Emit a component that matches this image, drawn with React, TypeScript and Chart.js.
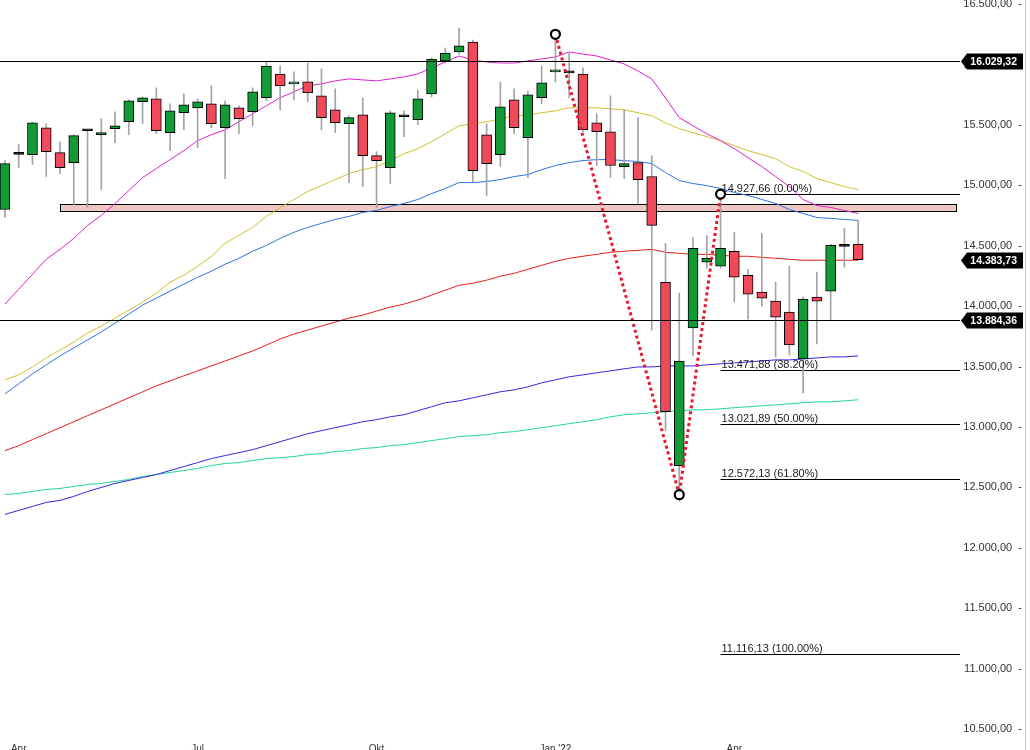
import React, { useEffect, useRef } from "react";
import { Chart, registerables } from "chart.js";

Chart.register(...registerables);

// ---- weekly candles (index 0..62) ----
const OPEN = [14800, 15257, 15254, 15477, 15271, 15188, 15452, 15419, 15469, 15527, 15692, 15716, 15436, 15601, 15642, 15675, 15477, 15642, 15609, 15725, 15922, 15840, 15856, 15741, 15625, 15510, 15584, 15246, 15147, 15568, 15543, 15757, 16030, 16104, 16187, 15419, 15254, 15708, 15395, 15725, 15939, 15931, 15922, 15518, 15444, 15155, 15188, 15073, 14198, 12680, 13819, 14363, 14330, 14454, 14256, 14116, 14041, 13951, 13563, 14074, 14124, 14495, 14512];
const HIGH = [15205, 15337, 15525, 15510, 15361, 15420, 15460, 15551, 15609, 15708, 15733, 15807, 15675, 15757, 15716, 15823, 15700, 15658, 15807, 16021, 15988, 15939, 16013, 15964, 15799, 15576, 15725, 15279, 15617, 15617, 15790, 16054, 16137, 16302, 16203, 15510, 15856, 15799, 15782, 15988, 16285, 16096, 15972, 15592, 15741, 15625, 15560, 15246, 14520, 14107, 14569, 14586, 14927.66, 14611, 14305, 14603, 14198, 14330, 14074, 14281, 14512, 14644, 14710];
const LOW = [14734, 15147, 15172, 15073, 15097, 14842, 14817, 14965, 15353, 15419, 15510, 15428, 15287, 15460, 15312, 15477, 15056, 15428, 15493, 15700, 15625, 15708, 15692, 15460, 15436, 15023, 14990, 14817, 15015, 15403, 15502, 15733, 16013, 16088, 15031, 14916, 15155, 15428, 15064, 15675, 15856, 15725, 15444, 15164, 15064, 15056, 14850, 13802, 12969, 12438.85, 13588, 14314, 14314, 14033, 13893, 14000, 13579, 13596, 13282, 13687, 13885, 14322, 14380];
const CLOSE = [15180, 15257, 15518, 15279, 15147, 15411, 15452, 15436, 15493, 15700, 15725, 15452, 15617, 15667, 15692, 15510, 15667, 15551, 15774, 15988, 15823, 15856, 15766, 15560, 15518, 15560, 15246, 15205, 15601, 15568, 15716, 16046, 16096, 16154, 15122, 15180, 15650, 15477, 15749, 15848, 15955, 15931, 15460, 15444, 15164, 15180, 15048, 14668, 13126, 13546, 14479, 14396, 14479, 14239, 14099, 14066, 13909, 13678, 14058, 14041, 14503, 14495, 14383.73];

// ---- moving averages ----
const MA_MAGENTA = [14017, 14140, 14264, 14388, 14470, 14561, 14668, 14751, 14850, 14957, 15064, 15139, 15213, 15287, 15370, 15419, 15460, 15527, 15592, 15659, 15725, 15774, 15824, 15840, 15865, 15881, 15873, 15865, 15881, 15898, 15922, 15972, 16021, 16071, 16038, 16021, 16013, 16013, 16030, 16046, 16063, 16104, 16087, 16071, 16038, 16005, 15947, 15881, 15724, 15560, 15493, 15427, 15370, 15304, 15229, 15155, 15073, 14990, 14883, 14833, 14817, 14792, 14767];
const MA_YELLOW = [13390, 13431, 13497, 13571, 13637, 13703, 13778, 13835, 13901, 13967, 14033, 14107, 14198, 14256, 14330, 14413, 14520, 14586, 14652, 14743, 14817, 14883, 14949, 14998, 15048, 15097, 15130, 15155, 15205, 15262, 15304, 15361, 15427, 15493, 15510, 15526, 15551, 15576, 15584, 15601, 15617, 15642, 15642, 15642, 15634, 15625, 15601, 15576, 15518, 15469, 15436, 15403, 15370, 15329, 15287, 15254, 15221, 15155, 15114, 15056, 15023, 14990, 14965];
const MA_BLUE = [13274, 13357, 13439, 13514, 13588, 13654, 13720, 13786, 13860, 13934, 14009, 14066, 14124, 14182, 14239, 14289, 14347, 14396, 14454, 14503, 14561, 14611, 14652, 14685, 14718, 14743, 14776, 14792, 14825, 14850, 14883, 14932, 14974, 15023, 15023, 15032, 15048, 15073, 15089, 15130, 15164, 15188, 15205, 15213, 15213, 15205, 15197, 15180, 15106, 15040, 15015, 14998, 14974, 14941, 14916, 14883, 14850, 14800, 14767, 14734, 14726, 14718, 14710];
const MA_RED = [12804, 12845, 12895, 12944, 12994, 13043, 13093, 13142, 13192, 13241, 13291, 13340, 13381, 13423, 13464, 13505, 13546, 13588, 13629, 13678, 13728, 13769, 13802, 13835, 13868, 13901, 13926, 13959, 13992, 14017, 14050, 14091, 14132, 14173, 14190, 14215, 14248, 14272, 14305, 14338, 14371, 14396, 14413, 14429, 14446, 14454, 14462, 14470, 14446, 14437, 14429, 14429, 14421, 14413, 14413, 14404, 14396, 14388, 14380, 14380, 14380, 14380, 14380];
const MA_PURPLE = [12276, 12309, 12342, 12375, 12392, 12425, 12466, 12499, 12532, 12557, 12581, 12606, 12639, 12672, 12705, 12738, 12763, 12787, 12812, 12845, 12878, 12911, 12944, 12969, 12994, 13018, 13043, 13060, 13084, 13101, 13134, 13167, 13200, 13216, 13241, 13266, 13291, 13307, 13332, 13365, 13390, 13415, 13431, 13448, 13464, 13481, 13497, 13497, 13505, 13505, 13505, 13514, 13522, 13530, 13538, 13547, 13555, 13555, 13563, 13571, 13580, 13580, 13588];
const MA_TEAL = [12441, 12449, 12466, 12482, 12491, 12507, 12524, 12532, 12548, 12565, 12590, 12606, 12623, 12639, 12656, 12680, 12697, 12705, 12722, 12738, 12746, 12755, 12771, 12779, 12796, 12804, 12821, 12829, 12845, 12854, 12870, 12887, 12903, 12920, 12928, 12936, 12953, 12961, 12977, 12994, 13010, 13027, 13043, 13060, 13084, 13101, 13109, 13117, 13126, 13134, 13142, 13142, 13150, 13159, 13167, 13175, 13183, 13192, 13200, 13208, 13208, 13216, 13225];

// ---- axes ----
const X_TICK_POS = [1, 14, 27, 40, 53];
const X_TICK_LABELS = ["Apr", "Jul", "Okt", "Jan '22", "Apr"];
const Y_TICKS = [10500, 11000, 11500, 12000, 12500, 13000, 13500, 14000, 14500, 15000, 15500, 16000, 16500];
const X_MIN = -0.36;
const X_MAX = 69.4;
const Y_MIN = 10400;
const Y_MAX = 16700;

// ---- annotations ----
const H_LINES = [16029.32, 13884.36];
const ZONE_START = 4;
const ZONE_RANGE = [14790, 14848];
const SWING_X = [40, 49, 52];
const SWING_Y = [16250.38, 12438.85, 14927.66];
const FIB_START = 52;
const FIB_PCT = [0, 38.2, 50, 61.8, 100];
const FIB_VALUES = [14927.66, 13471.88, 13021.89, 12572.13, 11116.13];

const FONT = '"Liberation Sans", Arial, sans-serif';

function fmtDE(v: number): string {
  const s = Math.abs(v).toFixed(2);
  const [i, f] = s.split(".");
  const ii = i.replace(/\B(?=(\d{3})+(?!\d))/g, ".");
  return (v < 0 ? "-" : "") + ii + "," + f;
}

const overlayPlugin = {
  id: "overlay",
  beforeDatasetsDraw(chart: any) {
    const { ctx, chartArea, scales } = chart;
    const xs = scales.x;
    const ys = scales.y;
    ctx.save();
    const zx = Math.round(xs.getPixelForValue(ZONE_START));
    const zTop = Math.round(ys.getPixelForValue(ZONE_RANGE[1]));
    const zBot = Math.round(ys.getPixelForValue(ZONE_RANGE[0]));
    const zRight = Math.round(chartArea.right - 4);
    ctx.fillStyle = "rgb(238,198,194)";
    ctx.fillRect(zx, zTop, zRight - zx, zBot - zTop);
    ctx.strokeStyle = "#000";
    ctx.lineWidth = 1;
    ctx.strokeRect(zx + 0.5, zTop + 0.5, zRight - zx, zBot - zTop);
    const fx = xs.getPixelForValue(FIB_START);
    FIB_VALUES.forEach((v) => {
      const py = Math.round(ys.getPixelForValue(v)) + 0.5;
      ctx.beginPath();
      ctx.moveTo(fx, py);
      ctx.lineTo(chartArea.right, py);
      ctx.stroke();
    });
    ctx.restore();
  },
  afterDatasetsDraw(chart: any) {
    const { ctx, chartArea, scales } = chart;
    const xs = scales.x;
    const ys = scales.y;
    ctx.save();
    ctx.strokeStyle = "#000";
    ctx.lineWidth = 1;
    H_LINES.forEach((v) => {
      const py = Math.round(ys.getPixelForValue(v)) + 0.5;
      ctx.beginPath();
      ctx.moveTo(chartArea.left, py);
      ctx.lineTo(chartArea.right, py);
      ctx.stroke();
    });
    const fx = xs.getPixelForValue(FIB_START);
    ctx.font = "11px " + FONT;
    ctx.fillStyle = "#1a1a1a";
    ctx.textAlign = "left";
    ctx.textBaseline = "alphabetic";
    FIB_VALUES.forEach((v, i) => {
      const py = Math.round(ys.getPixelForValue(v));
      ctx.fillText(`${fmtDE(v)} (${FIB_PCT[i].toFixed(2)}%)`, fx + 1, py - 2);
    });
    ctx.restore();
  },
  afterDraw(chart: any) {
    const { ctx, chartArea, scales, height } = chart;
    const ys = scales.y;
    ctx.save();
    const tags = [...H_LINES, CLOSE[CLOSE.length - 1]];
    tags.forEach((v) => {
      const cy = Math.round(ys.getPixelForValue(v)) + 0.5;
      const tip = chartArea.right + 1;
      const bx = chartArea.right + 7;
      const bw = 56;
      const h = 16;
      ctx.fillStyle = "#000";
      ctx.beginPath();
      ctx.moveTo(tip, cy);
      ctx.lineTo(bx, cy - h / 2);
      ctx.lineTo(bx + bw, cy - h / 2);
      ctx.lineTo(bx + bw, cy + h / 2);
      ctx.lineTo(bx, cy + h / 2);
      ctx.closePath();
      ctx.fill();
      ctx.fillStyle = "#fff";
      ctx.font = "bold 10.5px " + FONT;
      ctx.textAlign = "right";
      ctx.textBaseline = "middle";
      ctx.fillText(fmtDE(v), bx + bw - 6, cy + 0.5);
    });
    ctx.strokeStyle = "#c8c8c8";
    ctx.lineWidth = 1;
    ctx.beginPath();
    ctx.moveTo(1025.5, 0);
    ctx.lineTo(1025.5, height);
    ctx.stroke();
    ctx.restore();
  },
};

function maLine(label: string, values: number[], color: string, order: number) {
  return {
    type: "line" as const,
    label,
    data: values.map((v, i) => ({ x: i, y: v })),
    borderColor: color,
    borderWidth: 1,
    pointRadius: 0,
    tension: 0,
    fill: false,
    order,
  };
}

export default function App() {
  const ref = useRef<HTMLCanvasElement | null>(null);

  useEffect(() => {
    if (!ref.current) return;
    const bodyColors = OPEN.map((o, i) =>
      CLOSE[i] > o ? "#119a35" : CLOSE[i] < o ? "#f04a5a" : "#000000"
    );
    const chart = new Chart(ref.current, {
      type: "bar",
      data: {
        datasets: [
          {
            type: "line",
            label: "swing",
            data: SWING_X.map((x, i) => ({ x, y: SWING_Y[i] })),
            borderColor: "#e8182c",
            borderWidth: 3,
            borderDash: [3, 3],
            pointRadius: 4.5,
            pointBorderWidth: 2.2,
            pointBackgroundColor: "#ffffff",
            pointBorderColor: "#000000",
            tension: 0,
            fill: false,
            order: 0,
          } as any,
          {
            type: "bar",
            label: "body",
            data: OPEN.map((o, i) => ({ x: i, y: [o, CLOSE[i]] })),
            backgroundColor: bodyColors,
            borderColor: "#000000",
            borderWidth: 1,
            borderSkipped: false,
            barThickness: 10,
            minBarLength: 2,
            grouped: false,
            order: 1,
          } as any,
          {
            type: "bar",
            label: "wick",
            data: LOW.map((l, i) => ({ x: i, y: [l, HIGH[i]] })),
            backgroundColor: "#a3a3a3",
            borderWidth: 0,
            barThickness: 1,
            grouped: false,
            order: 2,
          } as any,
          maLine("ma-magenta", MA_MAGENTA, "#dd22cc", 3),
          maLine("ma-yellow", MA_YELLOW, "#d3bf2c", 4),
          maLine("ma-blue", MA_BLUE, "#2f72e2", 5),
          maLine("ma-red", MA_RED, "#e81c1c", 6),
          maLine("ma-purple", MA_PURPLE, "#3a24dc", 7),
          maLine("ma-teal", MA_TEAL, "#22d6a0", 8),
        ] as any,
      },
      options: {
        responsive: false,
        animation: false,
        layout: { autoPadding: false, padding: { top: 10, right: 8, left: 0, bottom: 0 } },
        plugins: {
          legend: { display: false },
          tooltip: { enabled: false },
        },
        scales: {
          x: {
            type: "linear",
            min: X_MIN,
            max: X_MAX,
            offset: false,
            grid: { display: false, drawTicks: false },
            border: { display: false },
            afterBuildTicks: (s: any) => {
              s.ticks = X_TICK_POS.map((v) => ({ value: v }));
            },
            afterFit: (s: any) => {
              s.height = 16;
              s.paddingLeft = 0;
              s.paddingRight = 0;
            },
            ticks: {
              autoSkip: false,
              maxRotation: 0,
              padding: 2,
              color: "#333333",
              font: { family: FONT, size: 10 },
              callback: (v: any) => {
                const k = X_TICK_POS.indexOf(Number(v));
                return k >= 0 ? X_TICK_LABELS[k] : "";
              },
            },
          },
          y: {
            type: "linear",
            position: "right",
            min: Y_MIN,
            max: Y_MAX,
            grid: { display: false, drawTicks: false },
            border: { display: false },
            afterBuildTicks: (s: any) => {
              s.ticks = Y_TICKS.map((v) => ({ value: v }));
            },
            afterFit: (s: any) => {
              s.width = 62;
              s.paddingLeft = 0;
              s.paddingRight = 0;
            },
            ticks: {
              crossAlign: "far",
              padding: 2,
              color: "#333333",
              font: { family: FONT, size: 11 },
              callback: (v: any) => fmtDE(Number(v)) + "  -",
            },
          },
        } as any,
      },
      plugins: [overlayPlugin],
    });
    return () => chart.destroy();
  }, []);

  return (
    <div
      style={{
        position: "fixed",
        left: 0,
        top: 0,
        width: 1030,
        height: 750,
        overflow: "hidden",
        background: "#ffffff",
      }}
    >
      <canvas
        ref={ref}
        width={1030}
        height={787}
        style={{ position: "absolute", left: 0, top: -30, width: 1030, height: 787 }}
      />
    </div>
  );
}
